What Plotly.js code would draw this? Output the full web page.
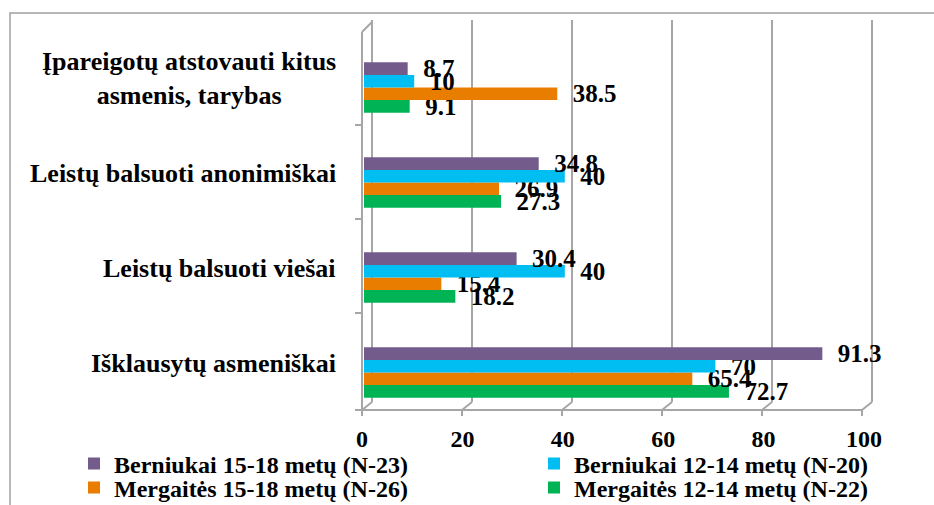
<!DOCTYPE html>
<html>
<head>
<meta charset="utf-8">
<script src="https://cdn.plot.ly/plotly-3.0.1.min.js"></script>
<style>html,body{margin:0;padding:0;background:#fff;}#chart{width:934px;height:505px;}</style>
</head>
<body>
<div id="chart"></div>
<script>
// ---- data ----
var categories = [
  "Išklausytų asmeniškai",
  "Leistų balsuoti viešai",
  "Leistų balsuoti anonimiškai",
  "Įpareigotų atstovauti kitus<br>asmenis, tarybas"
];
var seriesNames = [
  "Mergaitės 12-14 metų (N-22)",
  "Mergaitės 15-18 metų (N-26)",
  "Berniukai 12-14 metų (N-20)",
  "Berniukai 15-18 metų (N-23)"
];
var mergaites1214 = [72.7, 18.2, 27.3, 9.1];
var mergaites1518 = [65.4, 15.4, 26.9, 38.5];
var berniukai1214 = [70, 40, 40, 10];
var berniukai1518 = [91.3, 30.4, 34.8, 8.7];
var xTicks = [0, 20, 40, 60, 80, 100];
var xTickLabels = ["0", "20", "40", "60", "80", "100"];

// ---- styling ----
var W = 934, H = 505;
var M = {l: 364, r: 68, t: 40, b: 85, autoexpand: false};
var PW = W - M.l - M.r, PH = H - M.t - M.b;
var FONT = "Liberation Serif, Times New Roman, serif";
var colors = ["#00b456", "#e87d00", "#00bdf2", "#735b8c"];
var allSeries = [mergaites1214, mergaites1518, berniukai1214, berniukai1518];
var GRID = "#a6a6a6";

function px(x) { return (x - M.l) / PW; }
function py(y) { return (H - M.b - y) / PH; }

// legend slot per series: [left pixel, row centre pixel]
var legendSlots = [[534, 488], [74, 488], [534, 464], [74, 464]];
var legendIds = ["legend4", "legend3", "legend2", "legend"];

var traces = allSeries.map(function (vals, i) {
  return {
    type: "bar",
    orientation: "h",
    name: seriesNames[i],
    y: categories,
    x: vals,
    text: vals.map(function (v) { return "\u00a0\u00a0" + v; }),
    textposition: "outside",
    constraintext: "none",
    cliponaxis: false,
    textfont: {family: FONT, size: 25, weight: "bold", color: "#000"},
    marker: {color: colors[i]},
    legend: legendIds[i],
    hoverinfo: "skip"
  };
});

// frame decoration (3D-like walls)
var shapes = [];
function line(x0, y0, x1, y1, w) {
  shapes.push({type: "line", xref: "paper", yref: "paper",
    x0: px(x0), y0: py(y0), x1: px(x1), y1: py(y1),
    line: {color: GRID, width: w || 2}, layer: "below"});
}
// outer border
shapes.push({type: "rect", xref: "paper", yref: "paper",
  x0: px(10), y0: py(13), x1: px(945), y1: py(515),
  line: {color: "#a0a0a0", width: 1.5}, layer: "below"});
var FRONT0 = 362, BACK0 = 372, UNIT = 5.0, FY = 410, BY = 402, TOPY = 20;
xTicks.forEach(function (v) {
  var fx = FRONT0 + UNIT * v, bx = BACK0 + UNIT * v;
  line(bx, TOPY, bx, BY);          // back-wall gridline
  line(fx, FY, bx, BY);            // floor diagonal
  line(fx, FY, fx, FY + 6);        // front tick
});
line(FRONT0, FY, FRONT0 + UNIT * 100, FY);   // front axis line
line(FRONT0, 32, FRONT0, FY);                // left wall front edge
line(FRONT0, 32, BACK0, 22);                 // left wall top edge
[125, 219, 313, 410].forEach(function (y) { line(355, y, FRONT0, y); });

var annotations = categories.map(function (c) {
  return {
    xref: "paper", yref: "y", x: 0, y: c, xshift: -26, yshift: 9,
    xanchor: "right", yanchor: "middle", align: "center",
    text: c, showarrow: false,
    font: {family: FONT, size: 26, weight: "bold", color: "#000"}
  };
});

var layout = {
  width: W, height: H,
  margin: M,
  paper_bgcolor: "#fff", plot_bgcolor: "rgba(0,0,0,0)",
  font: {family: FONT, color: "#000"},
  barmode: "group", bargap: 0.47, bargroupgap: 0,
  showlegend: true,
  xaxis: {
    range: [0, 100], tickvals: xTicks, ticktext: xTickLabels,
    showgrid: false, zeroline: false, showline: false, ticks: "",
    tickfont: {family: FONT, size: 24, weight: "bold", color: "#000"},
    ticklabelstandoff: 2, ticklabelshift: -2, fixedrange: true
  },
  yaxis: {
    type: "category", showticklabels: false, showgrid: false,
    zeroline: false, showline: false, ticks: "", fixedrange: true
  },
  shapes: shapes,
  annotations: annotations
};
legendIds.forEach(function (id, i) {
  layout[id] = {
    orientation: "h", xanchor: "left", yanchor: "middle",
    x: px(legendSlots[i][0]), y: py(legendSlots[i][1]),
    font: {family: FONT, size: 24, weight: "bold", color: "#000"},
    bgcolor: "rgba(0,0,0,0)", borderwidth: 0
  };
});

Plotly.newPlot("chart", traces, layout, {displayModeBar: false, staticPlot: true});
</script>
</body>
</html>
